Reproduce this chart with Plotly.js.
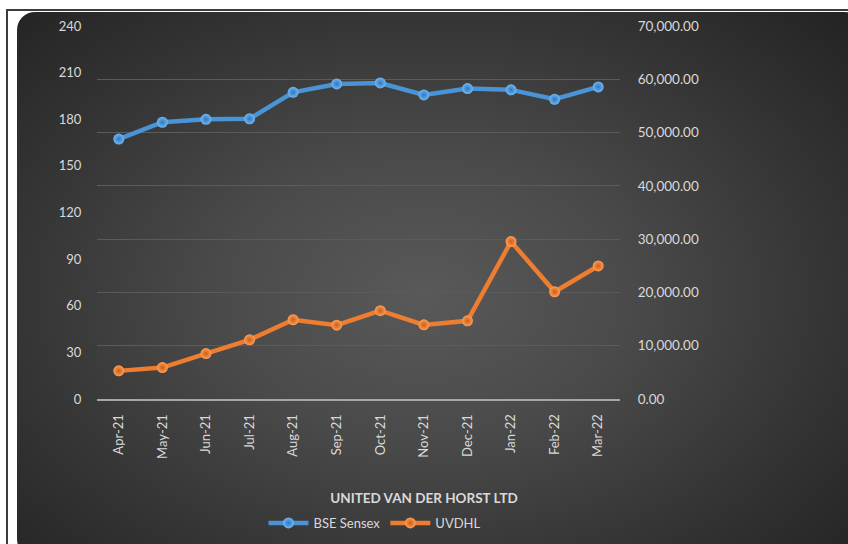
<!DOCTYPE html>
<html>
<head>
<meta charset="utf-8">
<script src="https://cdn.plot.ly/plotly-3.0.1.min.js"></script>
<style>
  html, body { margin:0; padding:0; background:#ffffff; width:848px; height:544px; overflow:hidden; }
  #frame { position:absolute; left:6px; top:9px; width:850px; height:540px; border-left:2px solid #3c3c3c; border-top:2px solid #3c3c3c; }
  #bg { position:absolute; left:17px; top:12px; width:845px; height:545px; border-radius:18px;
        background: radial-gradient(ellipse 70% 75% at 48% 52%, #595959 0%, #4a4a4a 35%, #343434 70%, #232323 100%); }
  #chart { position:absolute; left:0; top:0; width:848px; height:544px; }
</style>
</head>
<body>
<div id="frame"></div>
<div id="bg"></div>
<div id="chart"></div>
<script>
// Categories
const months = ["Apr-21","May-21","Jun-21","Jul-21","Aug-21","Sep-21","Oct-21","Nov-21","Dec-21","Jan-22","Feb-22","Mar-22"];
// BSE Sensex (right axis)
const bseSensex = [48782, 51937, 52483, 52587, 57552, 59126, 59307, 57065, 58254, 58014, 56247, 58569];
// UVDHL share price (left axis)
const uvdhl = [18.1, 20.2, 29.2, 38.1, 51.0, 47.5, 56.8, 47.7, 50.3, 101.3, 69.0, 85.6];
// Tick values
const leftTicks = [0, 30, 60, 90, 120, 150, 180, 210, 240];
const rightTicks = [0, 10000, 20000, 30000, 40000, 50000, 60000, 70000];

const font = "Lato, 'Open Sans', 'Liberation Sans', sans-serif";
const txt = "#d9d9d9";

const traces = [
  {
    x: months, y: bseSensex, name: "BSE Sensex", yaxis: "y2",
    type: "scatter", mode: "lines+markers",
    line: { color: "#4a93d6", width: 4.5 },
    marker: { symbol: "circle", size: 11, color: "#72b6f2",
              gradient: { type: "radial", color: "#2d78c0" },
              line: { width: 0 } },
    hoverinfo: "skip"
  },
  {
    x: months, y: uvdhl, name: "UVDHL", yaxis: "y",
    type: "scatter", mode: "lines+markers",
    line: { color: "#ed7d31", width: 4.5 },
    marker: { symbol: "circle", size: 11, color: "#ff9d55",
              gradient: { type: "radial", color: "#cc5e16" },
              line: { width: 0 } },
    hoverinfo: "skip"
  }
];

const layout = {
  width: 848, height: 544,
  paper_bgcolor: "rgba(0,0,0,0)",
  plot_bgcolor: "rgba(0,0,0,0)",
  margin: { l: 97, r: 228, t: 26, b: 145 },
  font: { family: font, color: txt, size: 13 },
  showlegend: true,
  title: {
    text: "<b>UNITED VAN DER HORST LTD</b>",
    font: { family: font, size: 13.5, color: txt },
    xref: "container", yref: "container",
    x: 0.5, xanchor: "center", y: 1 - 498/544, yanchor: "middle"
  },
  legend: {
    orientation: "h",
    xref: "container", yref: "container",
    x: 375/848, xanchor: "center", y: 1 - 523/544, yanchor: "middle",
    font: { family: font, size: 13, color: txt },
    bgcolor: "rgba(0,0,0,0)",
    itemwidth: 40, tracegroupgap: 0
  },
  xaxis: {
    type: "category",
    categoryarray: months,
    range: [-0.5, 11.5],
    tickangle: -90,
    tickfont: { family: font, size: 13, color: txt },
    showgrid: false,
    showline: true, linecolor: "#a6a6a6", linewidth: 2,
    ticks: "outside", ticklen: 8, tickcolor: "rgba(0,0,0,0)",
    zeroline: false, fixedrange: true
  },
  yaxis: {
    range: [0, 240],
    tickvals: leftTicks,
    ticktext: leftTicks.map(String),
    tickfont: { family: font, size: 13, color: txt },
    showgrid: false, zeroline: false, showline: false,
    ticks: "outside", ticklen: 12, tickcolor: "rgba(0,0,0,0)",
    fixedrange: true
  },
  yaxis2: {
    overlaying: "y", side: "right",
    range: [0, 70000],
    tickvals: rightTicks,
    ticktext: rightTicks.map(v => v.toLocaleString("en-US", { minimumFractionDigits: 2, maximumFractionDigits: 2 })),
    tickfont: { family: font, size: 13.5, color: txt },
    showgrid: true, gridcolor: "#5b5b5b", gridwidth: 1,
    zeroline: false, showline: false,
    ticks: "outside", ticklen: 14, tickcolor: "rgba(0,0,0,0)",
    fixedrange: true
  }
};

Plotly.newPlot("chart", traces, layout, { displayModeBar: false, staticPlot: true });
</script>
</body>
</html>
